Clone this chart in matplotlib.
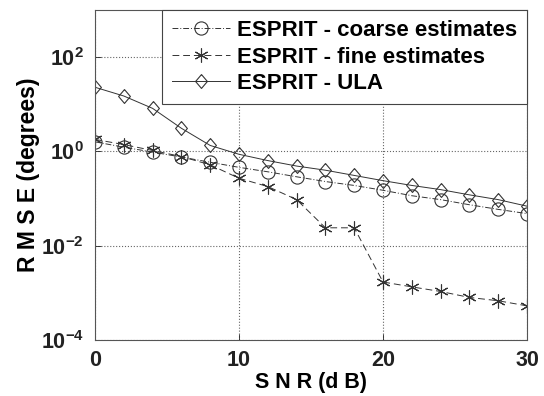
import numpy as np
import matplotlib.pyplot as plt
from matplotlib.ticker import FixedLocator, FuncFormatter, NullLocator

plt.rcParams['font.family'] = ['Liberation Sans', 'DejaVu Sans']
plt.rcParams['font.weight'] = 'bold'
plt.rcParams['mathtext.fontset'] = 'custom'
plt.rcParams['mathtext.rm'] = 'Liberation Sans:bold'
plt.rcParams['mathtext.bf'] = 'Liberation Sans:bold'

snr = [0, 2, 4, 6, 8, 10, 12, 14, 16, 18, 20, 22, 24, 26, 28, 30]
coarse = [1.6, 1.23, 0.97, 0.76, 0.59, 0.46, 0.37, 0.29, 0.23, 0.19,
          0.15, 0.115, 0.095, 0.074, 0.059, 0.048]
fine = [1.8, 1.4, 1.05, 0.78, 0.52, 0.27, 0.18, 0.095, 0.024, 0.024,
        0.0017, 0.00134, 0.00107, 0.0008, 0.00068, 0.00053]
ula = [23, 15, 8.2, 3.1, 1.34, 0.87, 0.64, 0.49, 0.40, 0.31,
       0.24, 0.19, 0.155, 0.12, 0.095, 0.069]

fig = plt.figure(figsize=(5.44, 3.96), dpi=100)
ax = fig.add_axes([0.1746, 0.1414, 0.7942, 0.8333])

# matlab-like diamond, a bit narrower than tall
diamond = [(0, 1), (0.85, 0), (0, -1), (-0.85, 0), (0, 1)]

lc = '#333333'
ax.semilogy(snr, coarse, linestyle=(0, (6, 2, 1, 2)), color=lc, lw=0.7, marker='o',
            ms=9.5, mfc='none', mec=lc, mew=0.8, label='ESPRIT - coarse estimates')
ax.semilogy(snr, fine, linestyle=(0, (7, 4)), color=lc, lw=0.7, marker=(6, 2, 0),
            ms=10, mec=lc, mew=0.8, label='ESPRIT - fine estimates')
ax.semilogy(snr, ula, linestyle='-', color=lc, lw=0.7, marker=diamond,
            ms=10, mfc='none', mec=lc, mew=0.8, label='ESPRIT - ULA')

ax.set_xlim(0, 30)
ax.set_ylim(1e-4, 1e3)
ax.xaxis.set_major_locator(FixedLocator([0, 10, 20, 30]))
ax.yaxis.set_major_locator(FixedLocator([1e-4, 1e-2, 1e0, 1e2]))
ax.yaxis.set_minor_locator(NullLocator())
ax.yaxis.set_major_formatter(FuncFormatter(lambda v, p: r'$\mathbf{10}^{\mathbf{%d}}$' % round(np.log10(v))))
ax.tick_params(direction='in', length=4, width=0.6, labelsize=15.5, colors='#222222')
ax.tick_params(axis='x', pad=7)
ax.tick_params(axis='y', pad=8)
for lab in ax.get_xticklabels():
    lab.set_fontweight('bold')

ax.grid(True, which='major', linestyle=':', color='#666666', lw=0.8)
for s in ax.spines.values():
    s.set_color('#555555')
    s.set_linewidth(0.8)

ax.set_xlabel('S N R (d B)', fontsize=15.5, fontweight='bold')
ax.set_ylabel('R M S E (degrees)', fontsize=16.5, fontweight='bold')
ax.xaxis.set_label_coords(0.5, -0.096)
ax.yaxis.set_label_coords(-0.128, 0.5)

leg = ax.legend(loc='upper right', borderaxespad=0, fancybox=False,
                framealpha=1, edgecolor='#444444',
                handlelength=2.6, handletextpad=0.33, labelspacing=0.25,
                borderpad=0.45, prop={'weight': 'bold', 'size': 16})
leg.get_frame().set_linewidth(0.8)

fig.savefig('out.png', dpi=100)
